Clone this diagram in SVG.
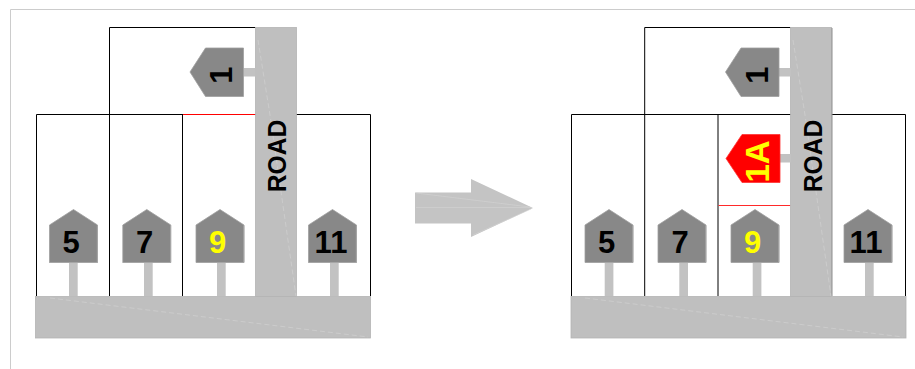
<svg xmlns="http://www.w3.org/2000/svg" width="915" height="369" viewBox="0 0 915 369">
<defs>
<style>
text{font-family:"Liberation Sans",Arial,sans-serif;font-weight:700;text-anchor:middle}
.lot{fill:none;stroke:#000;stroke-width:1}
.red{fill:none;stroke:#f00;stroke-width:1}
.road{fill:#bfbfbf;stroke:#b4b4b4;stroke-width:.8}
.post{fill:#c2c2c2}
.hs{fill:#888;stroke:#a0a0a0;stroke-width:.8}
.hsr{fill:#f00;stroke:#f33;stroke-width:.8}
.seam{fill:none;stroke:#d4d4d4;stroke-width:.6;stroke-dasharray:5 3}
.n{font-size:31px;fill:#000}
.y{fill:#ff0}
.rd{font-size:24.600px;fill:#000}
</style>
<g id="h"><path class="hs" d="M0 0L24 15.500V53H-24V15.500Z"/><path d="M23.800 16V53H-24" fill="none" stroke="#a6a6a6" stroke-width="1"/></g>
<g id="hb"><rect class="post" x="0" y="20" width="12" height="8.500"/><path class="hs" d="M-53.500 24L-38 0H0V48.500H-38Z"/></g>
</defs>
<path d="M10.500 369V9.500H915" fill="none" stroke="#ccc" stroke-width="1"/>
<g id="connectors"/>
<g id="plan-before">
<path class="lot" d="M109.500 114V27.500H256M36.500 296V114.500H370.500V296M109.500 114V296M182.500 114.500V296"/>
<path class="red" d="M183 114.500H255"/>
<g id="road-a"><rect class="road" x="255.500" y="27.500" width="41" height="269"/><path class="seam" d="M258 40L270 115L296 296"/><text class="rd" transform="translate(286 156) rotate(-90) scale(1 1.08)">ROAD</text></g>
<g id="road-b"><rect class="road" x="35.500" y="296.500" width="335" height="41.500"/><path class="seam" d="M50 298L368 337"/></g>
<g id="a1"><use href="#hb" x="243.500" y="48"/><text class="n" transform="translate(232 75) rotate(-90)">1</text></g>
<g id="a5"><rect class="post" x="69" y="262" width="8.700" height="34"/><use href="#h" x="73.500" y="209.500"/><text class="n" x="71" y="253">5</text></g>
<g id="a7"><rect class="post" x="144" y="262" width="8.700" height="34"/><use href="#h" x="146.800" y="209.500"/><text class="n" x="144.500" y="253">7</text></g>
<g id="a9"><rect class="post" x="217" y="262" width="8.700" height="34"/><use href="#h" x="220" y="209.500"/><text class="n y" x="217.500" y="253">9</text></g>
<g id="a11"><rect class="post" x="330" y="262" width="8.700" height="34"/><use href="#h" x="332.500" y="209.500"/><text class="n" x="331" y="253">11</text></g>
</g>
<g id="arrow"><path d="M415 192.500H471V179L533 208L471 237V223.500H415Z" fill="#c4c4c4"/><path d="M416 207.500H531M416 193L530 207M473 235L531 209" fill="none" stroke="#d4d4d4" stroke-width=".6"/></g>
<g id="plan-after">
<path class="lot" d="M644.700 114V27.500H791M571.500 296V114.500H905.500V296M644.700 114V296M718 114.500V296"/>
<path fill="none" stroke="#ff2a2a" stroke-width="1" d="M718.500 205.500H790.500"/>
<g id="road-c"><rect class="road" x="790.500" y="27.500" width="41" height="269"/><path d="M832 28V296" stroke="#8e8e8e" stroke-width="1"/><path class="seam" d="M793 40L805 115L831 296"/><text class="rd" transform="translate(821.500 156) rotate(-90) scale(1 1.08)">ROAD</text></g>
<g id="road-d"><rect class="road" x="571" y="296.500" width="335" height="41.500"/><path class="seam" d="M585 298L903 337"/></g>
<g id="b1"><use href="#hb" x="779" y="48"/><text class="n" transform="translate(768 75) rotate(-90)">1</text></g>
<g id="b1a"><rect class="post" x="779" y="154" width="12" height="8.500"/><path class="hsr" d="M726 158.500L742 134.500H780V182.500H742Z"/><text class="n y" style="font-size:33px" transform="translate(768.500 161.500) rotate(-90)">1A</text></g>
<g id="b5"><rect class="post" x="604.700" y="262" width="8.700" height="34"/><use href="#h" x="609" y="209.500"/><text class="n" x="606.500" y="253">5</text></g>
<g id="b7"><rect class="post" x="679.300" y="262" width="8.700" height="34"/><use href="#h" x="682" y="209.500"/><text class="n" x="680" y="253">7</text></g>
<g id="b9"><rect class="post" x="752.700" y="262" width="8.700" height="34"/><use href="#h" x="755" y="209.500"/><text class="n y" x="752.500" y="253">9</text></g>
<g id="b11"><rect class="post" x="865" y="262" width="8.700" height="34"/><use href="#h" x="868" y="209.500"/><text class="n" x="866" y="253">11</text></g>
</g>
</svg>
